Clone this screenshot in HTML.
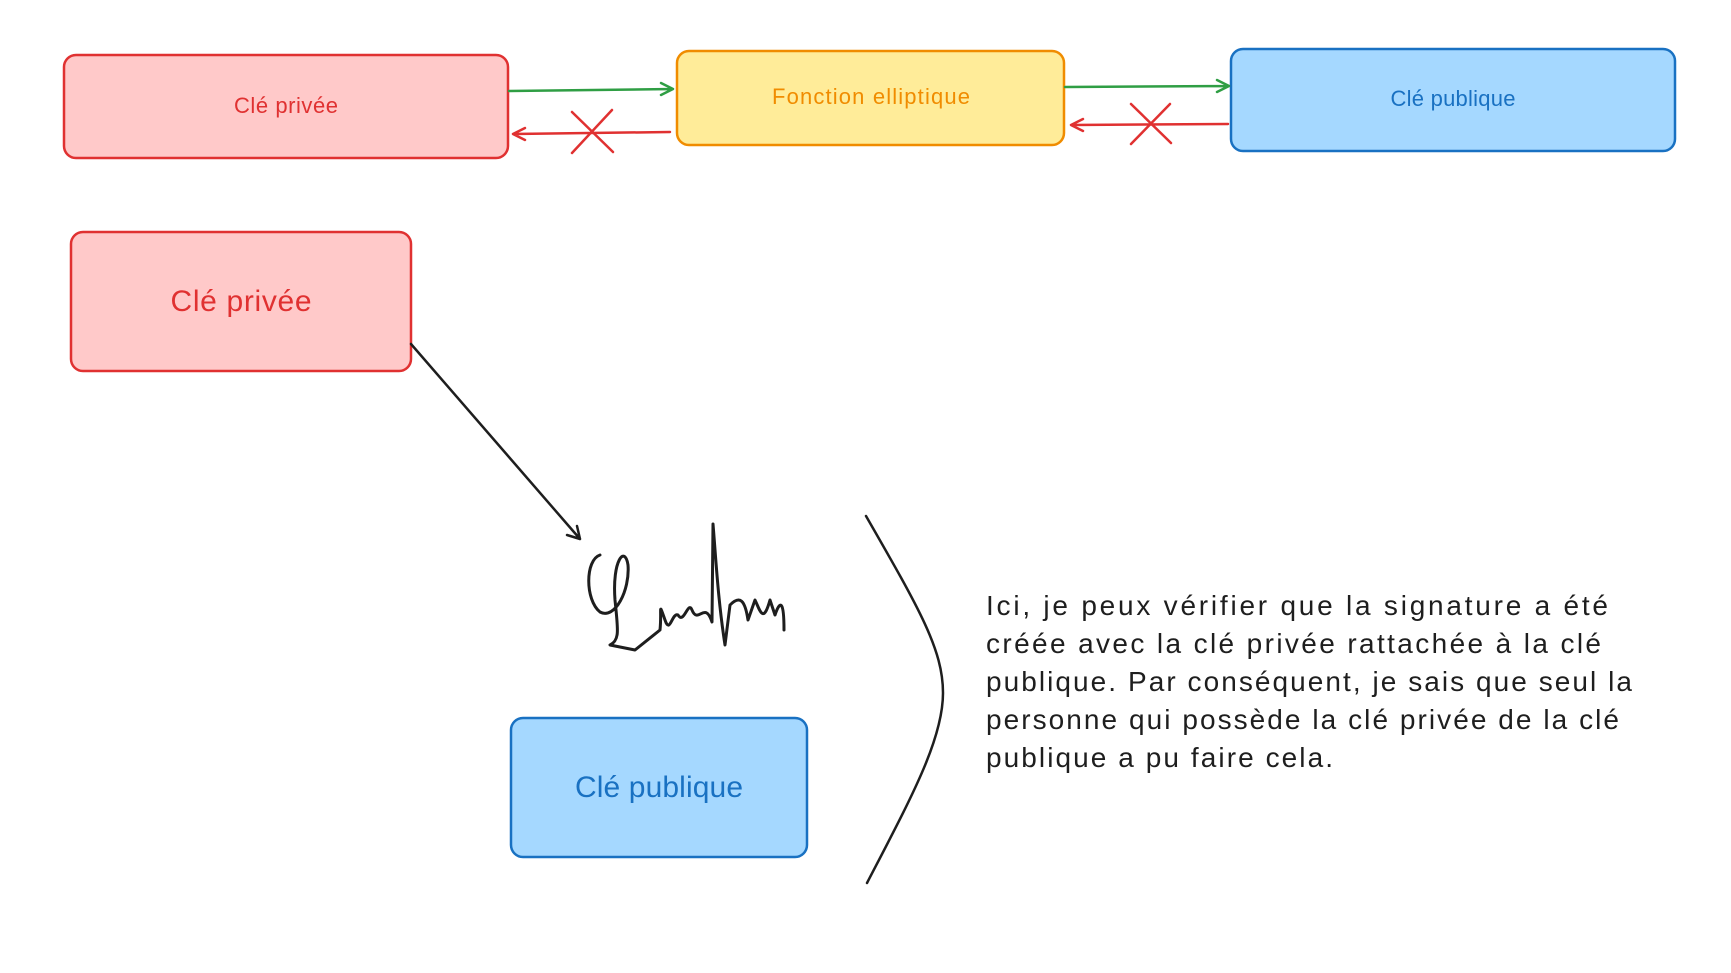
<!DOCTYPE html>
<html><head><meta charset="utf-8"><style>
html,body{margin:0;padding:0;background:#fff;}
svg{display:block}
text{font-family:"Liberation Sans","DejaVu Sans",sans-serif;}
</style></head><body>
<svg width="1731" height="973" viewBox="0 0 1731 973" xmlns="http://www.w3.org/2000/svg">
<g stroke-width="2.5" fill="none" stroke-linecap="round" stroke-linejoin="round">
<rect x="64" y="55" width="444" height="103" rx="12" fill="#ffc9c9" stroke="#e03131"/>
<rect x="677" y="51" width="387" height="94" rx="12" fill="#ffec99" stroke="#f08c00"/>
<rect x="1231" y="49" width="444" height="102" rx="12" fill="#a5d8ff" stroke="#1971c2"/>
<rect x="71" y="232" width="340" height="139" rx="12" fill="#ffc9c9" stroke="#e03131"/>
<rect x="511" y="718" width="296" height="139" rx="12" fill="#a5d8ff" stroke="#1971c2"/>
<path d="M509 91 L673 89 M661 83 L673 89 L661 95" stroke="#2f9e44"/>
<path d="M1065 87 L1229 86 M1217 80 L1229 86 L1217 92" stroke="#2f9e44"/>
<path d="M670 132 L513 134 M525 128 L513 134 L525 140" stroke="#e03131"/>
<path d="M572 112 L613 152 M612 110 L572 153" stroke="#e03131"/>
<path d="M1228 124 L1071 125 M1083 119 L1071 125 L1083 131" stroke="#e03131"/>
<path d="M1131 104 L1171 143 M1170 104 L1131 144" stroke="#e03131"/>
<path d="M411 344 L580 539 M567 535 L580 539 L577 526" stroke="#1e1e1e"/>
<path d="M866 516 C920 610 943 650 943 693 C943 740 910 800 867 883" stroke="#1e1e1e"/>
<path d="M600 555 C585 560 585 600 600 612 C615 620 630 590 628 565 C625 545 612 560 615 600 C618 630 620 640 610 645 L635 650 L660 630 C662 610 658 600 665 620 C670 635 672 612 678 615 C684 625 688 600 692 610 C698 625 705 600 712 622 L713 524 C716 560 718 600 725 645 L730 605 C740 595 745 600 748 620 L755 600 C760 610 763 625 770 600 L775 615 C780 600 784 600 784 630" stroke="#1e1e1e" stroke-width="3"/>
</g>
<g text-anchor="middle">
<text x="286" y="113" font-size="22" fill="#e03131" textLength="104" lengthAdjust="spacing">Clé privée</text>
<text x="871" y="104" font-size="22" fill="#f08c00" textLength="198" lengthAdjust="spacing">Fonction elliptique</text>
<text x="1453" y="106" font-size="22" fill="#1971c2" textLength="125" lengthAdjust="spacing">Clé publique</text>
<text x="241" y="311" font-size="30" fill="#e03131" textLength="141" lengthAdjust="spacing">Clé privée</text>
<text x="659" y="797" font-size="30" fill="#1971c2" textLength="168" lengthAdjust="spacing">Clé publique</text>
</g>
<g font-size="28" fill="#1e1e1e">
<text x="986" y="615" textLength="622" lengthAdjust="spacing">Ici, je peux vérifier que la signature a été</text>
<text x="986" y="653" textLength="615" lengthAdjust="spacing">créée avec la clé privée rattachée à la clé</text>
<text x="986" y="691" textLength="646" lengthAdjust="spacing">publique. Par conséquent, je sais que seul la</text>
<text x="986" y="729" textLength="633" lengthAdjust="spacing">personne qui possède la clé privée de la clé</text>
<text x="986" y="767" textLength="347" lengthAdjust="spacing">publique a pu faire cela.</text>
</g>
</svg>
</body></html>
